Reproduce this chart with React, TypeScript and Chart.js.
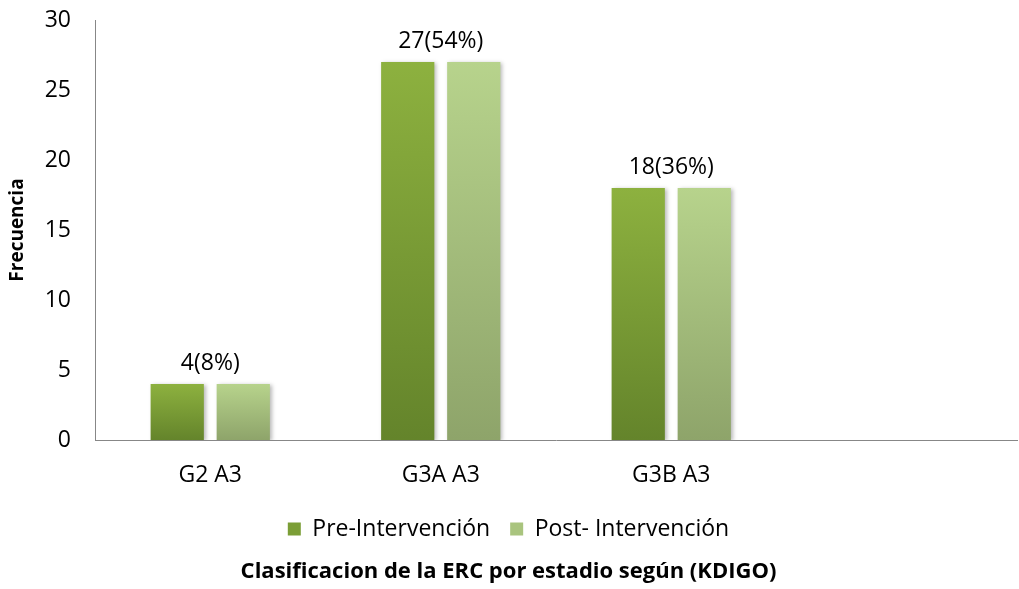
import React, { useEffect, useRef } from "react";
import { Chart, registerables } from "chart.js";

Chart.register(...registerables);

const categories = ["G2 A3", "G3A A3", "G3B A3", ""];
const preValues = [4, 27, 18, null];
const postValues = [4, 27, 18, null];
const groupLabels = ["4(8%)", "27(54%)", "18(36%)", ""];
const seriesNames = ["Pre-Intervención", "Post- Intervención"];
const yTicks = [0, 5, 10, 15, 20, 25, 30];

const FONT = "'Open Sans', sans-serif";

const preColors = { top: "#8db13f", bottom: "#64842b", legend: "#7b9e36" };
const postColors = { top: "#b7d38c", bottom: "#8ea46a", legend: "#a9c47e" };

// Vertical gradient spanning each bar from its top down to the baseline
function barGradient(colors: { top: string; bottom: string; legend: string }) {
  return (ctx: any) => {
    const chart = ctx.chart;
    const y = chart.scales?.y;
    if (ctx.type !== "data" || !y || ctx.raw == null) return colors.legend;
    const top = y.getPixelForValue(ctx.raw);
    const bottom = y.getPixelForValue(0);
    if (!isFinite(top) || !isFinite(bottom) || top === bottom) return colors.legend;
    const g = chart.ctx.createLinearGradient(0, top, 0, bottom);
    g.addColorStop(0, colors.top);
    g.addColorStop(1, colors.bottom);
    return g;
  };
}

// Soft drop shadow behind the bars
const shadowPlugin = {
  id: "barShadow",
  beforeDatasetsDraw(chart: any) {
    const c = chart.ctx;
    c.save();
    c.shadowColor = "rgba(0,0,0,0.28)";
    c.shadowBlur = 4;
    c.shadowOffsetX = 2;
    c.shadowOffsetY = 1;
  },
  afterDatasetsDraw(chart: any) {
    chart.ctx.restore();
  },
};

// One value label per category, centred over the pair of bars
const groupLabelPlugin = {
  id: "groupLabels",
  afterDatasetsDraw(chart: any) {
    const c = chart.ctx;
    const x = chart.scales.x;
    const y = chart.scales.y;
    c.save();
    c.font = `23px ${FONT}`;
    c.fillStyle = "#000";
    c.textAlign = "center";
    c.textBaseline = "middle";
    groupLabels.forEach((label, i) => {
      if (!label) return;
      const v = Math.max(preValues[i] ?? 0, postValues[i] ?? 0);
      const px = x.getPixelForValue(i);
      const py = y.getPixelForValue(v) - 21;
      c.fillText(label, px, py);
    });
    c.restore();
  },
};

export default function App() {
  const canvasRef = useRef<HTMLCanvasElement>(null);

  useEffect(() => {
    document.body.style.margin = "0";
    const canvas = canvasRef.current!;
    const chart = new Chart(canvas, {
      type: "bar",
      data: {
        labels: categories,
        datasets: [
          {
            label: seriesNames[0],
            data: preValues,
            backgroundColor: barGradient(preColors),
            borderWidth: 0,
            categoryPercentage: 0.573,
            barPercentage: 0.806,
          },
          {
            label: seriesNames[1],
            data: postValues,
            backgroundColor: barGradient(postColors),
            borderWidth: 0,
            categoryPercentage: 0.573,
            barPercentage: 0.806,
          },
        ],
      },
      options: {
        animation: false,
        responsive: false,
        layout: { padding: { top: 20, right: 2, left: 0, bottom: 0 } },
        scales: {
          x: {
            afterFit(scale: any) {
              scale.height = 57.6;
            },
            grid: { display: false, drawTicks: false },
            border: { display: true, color: "#878787", width: 1 },
            ticks: {
              color: "#000",
              font: { family: FONT, size: 23 },
              padding: 22,
            },
          },
          y: {
            min: 0,
            max: 30,
            afterBuildTicks(scale: any) {
              scale.ticks = yTicks.map((v) => ({ value: v }));
            },
            afterFit(scale: any) {
              scale.width = 95;
              scale.paddingTop = 0;
              scale.paddingBottom = 0;
            },
            grid: { display: false, drawTicks: false },
            border: { display: true, color: "#878787", width: 1 },
            ticks: {
              color: "#000",
              font: { family: FONT, size: 23 },
              padding: 24,
            },
            title: {
              display: true,
              text: "Frecuencia",
              color: "#000",
              font: { family: FONT, size: 19, weight: "bold" },
              padding: { top: 6, bottom: 0 },
            },
          },
        },
        plugins: {
          tooltip: { enabled: false },
          legend: {
            position: "bottom",
            labels: {
              color: "#000",
              font: { family: FONT, size: 23 },
              boxWidth: 13,
              boxHeight: 13,
              padding: 20,
              generateLabels(chart: any) {
                const fills = [preColors.legend, postColors.legend];
                return chart.data.datasets.map((ds: any, i: number) => ({
                  text: ds.label,
                  fillStyle: fills[i],
                  strokeStyle: fills[i],
                  lineWidth: 0,
                  hidden: false,
                  datasetIndex: i,
                  fontColor: "#000",
                }));
              },
            },
          },
          title: {
            display: true,
            position: "bottom",
            text: "Clasificacion de la ERC por estadio según (KDIGO)",
            color: "#000",
            font: { family: FONT, size: 22, weight: "bold" },
            padding: { top: 8, bottom: 4 },
          },
        },
      },
      plugins: [shadowPlugin, groupLabelPlugin],
    });
    return () => chart.destroy();
  }, []);

  return <canvas ref={canvasRef} width={1019} height={589} style={{ display: "block" }} />;
}
